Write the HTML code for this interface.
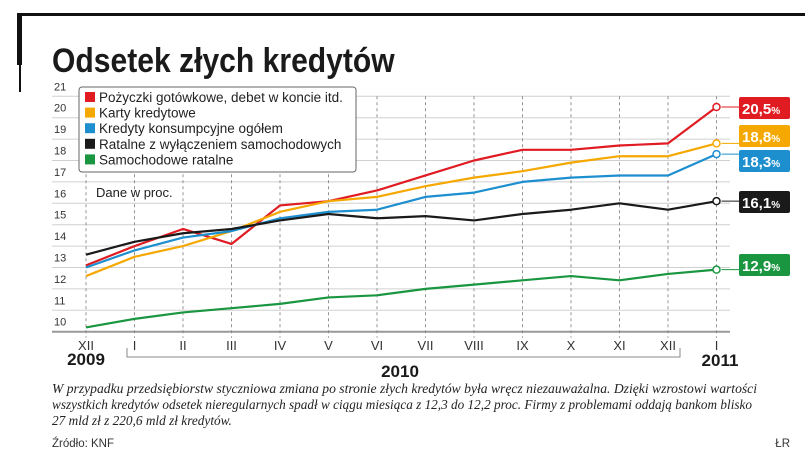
<!DOCTYPE html>
<html><head><meta charset="utf-8"><style>
html,body{margin:0;padding:0;background:#fff;}
svg{display:block;font-family:"Liberation Sans",sans-serif;}
</style></head><body>
<svg id="c" width="805" height="460" viewBox="0 0 805 460">
<g id="frame">
<rect x="17" y="13" width="788" height="3" fill="#111"/>
<rect x="17" y="13" width="5" height="52" fill="#111"/>
<rect x="19" y="60" width="2" height="32" fill="#111"/>
</g>
<text x="52" y="72" font-size="34" font-weight="bold" fill="#1a1a1a" transform="translate(52 0) scale(0.885 1) translate(-52 0)">Odsetek złych kredytów</text>
<g id="grid"></g>
<g id="series"></g>
<g id="legend">
<rect x="79" y="87" width="277" height="85" rx="3" fill="#fff" stroke="#666" stroke-width="1"/>
</g>
<text x="96" y="197" font-size="13" fill="#222">Dane w proc.</text>
<g id="years" font-weight="bold" fill="#1a1a1a" font-size="17">
<text x="86" y="365" text-anchor="middle">2009</text>
<text x="400" y="377" text-anchor="middle">2010</text>
<text x="720" y="366" text-anchor="middle">2011</text>
<path d="M127 348 V357 H680 V348" fill="none" stroke="#888" stroke-width="1"/>
</g>
<g font-family="'Liberation Serif',serif" font-style="italic" font-size="13.3" fill="#222">
<text x="52" y="393" textLength="705" lengthAdjust="spacingAndGlyphs">W przypadku przedsiębiorstw styczniowa zmiana po stronie złych kredytów była wręcz niezauważalna. Dzięki wzrostowi wartości</text>
<text x="52" y="409" textLength="700" lengthAdjust="spacingAndGlyphs">wszystkich kredytów odsetek nieregularnych spadł w ciągu miesiąca z 12,3 do 12,2 proc. Firmy z problemami oddają bankom blisko</text>
<text x="52" y="425">27 mld zł z 220,6 mld zł kredytów.</text>
</g>
<text x="52" y="447" font-size="11.5" fill="#333">Źródło: KNF</text>
<text x="790" y="447" font-size="11.5" fill="#333" text-anchor="end">ŁR</text>
</svg>
<script>
const months=["XII","I","II","III","IV","V","VI","VII","VIII","IX","X","XI","XII","I"];
const yTicks=[10,11,12,13,14,15,16,17,18,19,20,21];
const seriesNames=["Pożyczki gotówkowe, debet w koncie itd.","Karty kredytowe","Kredyty konsumpcyjne ogółem","Ratalne z wyłączeniem samochodowych","Samochodowe ratalne"];
const seriesColors=["#e01b22","#f5a800","#1d8fcf","#1a1a1a","#1a9641"];
const redVals=[13.1,14.0,14.8,14.1,15.9,16.1,16.6,17.3,18.0,18.5,18.5,18.7,18.8,20.5];
const orangeVals=[12.6,13.5,14.0,14.7,15.6,16.1,16.3,16.8,17.2,17.5,17.9,18.2,18.2,18.8];
const blueVals=[13.0,13.8,14.4,14.7,15.3,15.6,15.7,16.3,16.5,17.0,17.2,17.3,17.3,18.3];
const blackVals=[13.6,14.2,14.6,14.8,15.2,15.5,15.3,15.4,15.2,15.5,15.7,16.0,15.7,16.1];
const greenVals=[10.2,10.6,10.9,11.1,11.3,11.6,11.7,12.0,12.2,12.4,12.6,12.4,12.7,12.9];
const endLabels=["20,5","18,8","18,3","16,1","12,9"];
const allVals=[redVals,orangeVals,blueVals,blackVals,greenVals];
const NS="http://www.w3.org/2000/svg";
const x=i=>86+i*48.5;
const y=v=>331.7-(v-10)*21.4;
function mk(t,a,p){const e=document.createElementNS(NS,t);for(const k in a)e.setAttribute(k,a[k]);p.appendChild(e);return e;}
const grid=document.getElementById('grid');
yTicks.forEach(v=>{
 const l=mk('line',{x1:52,x2:730,y1:y(v),y2:y(v),stroke:v===10?'#999':'#d0d0d0','stroke-width':v===10?2:1},grid);
 
 
 const t=mk('text',{x:54,y:y(v)-6,'font-size':11,fill:'#333'},grid);t.textContent=v;
 
 
});
months.forEach((m,i)=>{
 const l=mk('line',{x1:x(i),x2:x(i),y1:y(21),y2:y(10)+6,stroke:'#888','stroke-width':0.9,'stroke-dasharray':'3,3'},grid);
 
 
 const t=mk('text',{x:x(i),y:350,'font-size':13,fill:'#333','text-anchor':'middle'},grid);t.textContent=m;
 
 
});
const sg=document.getElementById('series');
const lg=document.getElementById('legend');
const boxY=[97,125,150,191,254];
allVals.forEach((vals,s)=>{
 const c=seriesColors[s];
 const p=mk('polyline',{points:vals.map((v,i)=>x(i)+','+y(v)).join(' '),fill:'none',stroke:c,'stroke-width':2.2,'stroke-linejoin':'round'},sg);
 
 
 const n=vals.length-1, ex=x(n), ey=y(vals[n]);
 const dot=mk('circle',{cx:ex,cy:ey,r:3.5,fill:'#fff',stroke:c,'stroke-width':1.5},sg);
 
 
 const by=boxY[s];
 mk('line',{x1:ex+5,x2:739,y1:ey,y2:ey,stroke:c,'stroke-width':1},sg);
 const b=mk('rect',{x:739,y:by,width:51,height:22,rx:2,fill:c},sg);
 
 
 const t=mk('text',{x:742,y:by+17,'font-size':15,'font-weight':'bold',fill:'#fff'},sg);
 t.innerHTML=endLabels[s]+'<tspan font-size="10">%</tspan>';
 
 
 const ly=98+s*15.6;
 const sw=mk('rect',{x:85,y:ly-6,width:10,height:10,fill:c},lg);
 
 
 const lt=mk('text',{x:99,y:ly+4,'font-size':13.5,fill:'#222'},lg);lt.textContent=seriesNames[s];
 
 
});
</script>
</body></html>
